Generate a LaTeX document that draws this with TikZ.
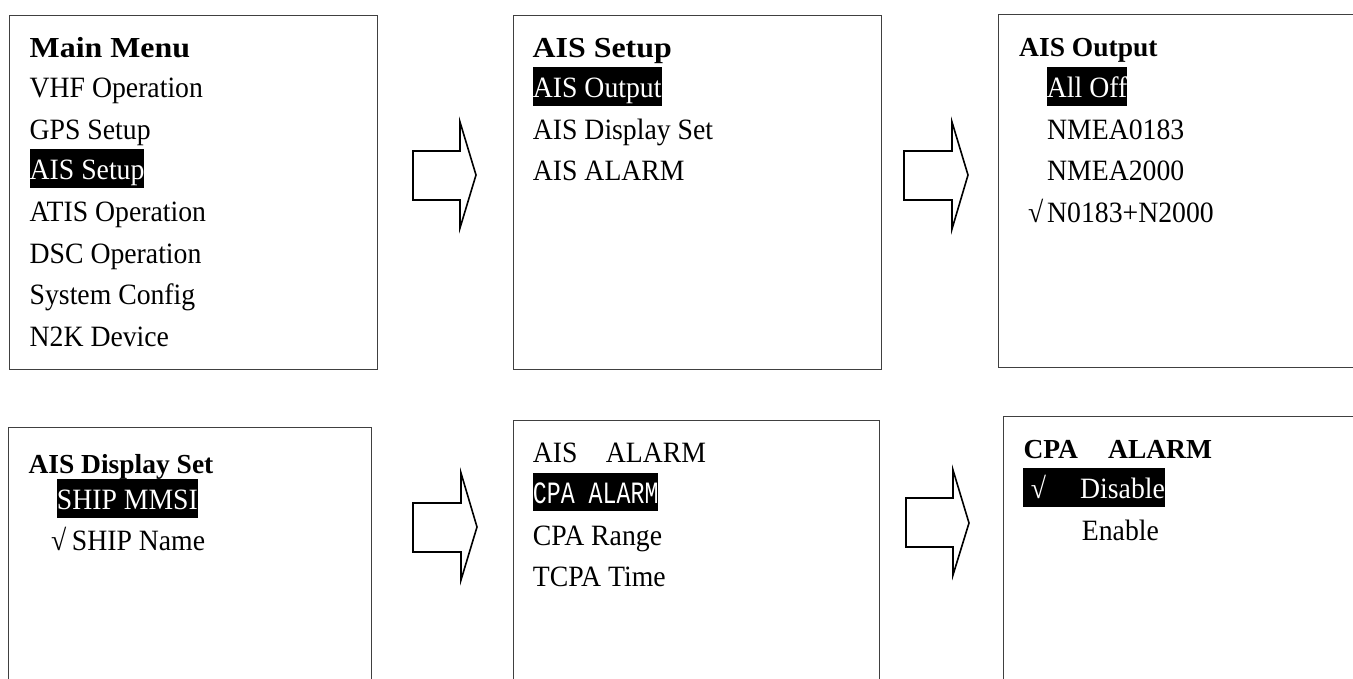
\documentclass[tikz,border=0pt]{standalone}
\usepackage{fontspec}
\setmainfont{Liberation Serif}
\newfontfamily\bodyfont{Liberation Serif}[FakeStretch=0.94]
\newfontfamily\bigfont{Liberation Serif}[FakeStretch=1.1]
\newfontfamily\lcdmono{Liberation Mono}[FakeStretch=0.75]
\begin{document}
\begin{tikzpicture}[x=1pt,y=-1pt,
  screen/.style={draw=black!75, line width=1.2pt, inner sep=0pt, anchor=north west},
  item/.style={inner sep=0pt, anchor=base west, font=\bodyfont\fontsize{29.5}{30}\selectfont},
  bighead/.style={inner sep=0pt, anchor=base west, font=\bigfont\bfseries\fontsize{29}{30}\selectfont},
  head/.style={inner sep=0pt, anchor=base west, font=\bfseries\fontsize{27.5}{28}\selectfont},
  hl/.style={item, fill=black, text=white, text height=30.5pt, text depth=8.3pt},
  hlmono/.style={hl, font=\lcdmono\fontsize{31}{31}\selectfont},
  blockarrow/.style={draw=black, line width=1.6pt, line join=miter}
]
\useasboundingbox (0,0) rectangle (1353,679);
\clip (0,0) rectangle (1353,679);

% screens
\node[screen, minimum width=368pt, minimum height=354pt] (scrMain) at (9,15) {};
\node[screen, minimum width=368pt, minimum height=354pt] (scrSetup) at (513,15) {};
\node[screen, minimum width=370pt, minimum height=353pt] (scrOutput) at (998,14) {};
\node[screen, minimum width=363pt, minimum height=290pt] (scrDisplay) at (8,427) {};
\node[screen, minimum width=366pt, minimum height=290pt] (scrAlarm) at (513,420) {};
\node[screen, minimum width=370pt, minimum height=290pt] (scrCpa) at (1003,416) {};

% Main Menu
\node[bighead] (mmT) at (29.5,57.3) {Main Menu};
\node[item] (mm1) at (29.5,98) {VHF Operation};
\node[item] (mm2) at (29.5,139.3) {GPS Setup};
\node[hl] (mm3) at (29.5,180) {AIS Setup};
\node[item] (mm4) at (29.5,222) {ATIS Operation};
\node[item] (mm5) at (29.5,263.5) {DSC Operation};
\node[item] (mm6) at (29.5,305) {System Config};
\node[item] (mm7) at (29.5,346.5) {N2K Device};

% AIS Setup
\node[bighead] (asT) at (532.5,57.3) {AIS Setup};
\node[hl] (as1) at (532.7,97.7) {AIS Output};
\node[item] (as2) at (532.7,139.5) {AIS Display Set};
\node[item] (as3) at (532.7,180.5) {AIS ALARM};

% AIS Output
\node[head] (aoT) at (1019,56.7) {AIS Output};
\node[hl] (ao1) at (1046.7,97.7) {All Off};
\node[item] (ao2) at (1047,139.3) {NMEA0183};
\node[item] (ao3) at (1047,181) {NMEA2000};
\node[item] (ao4) at (1028,222.3) {\makebox[19pt][l]{√}N0183+N2000};

% AIS Display Set
\node[head] (adT) at (28.3,473.3) {AIS Display Set};
\node[hl] (ad1) at (56.7,509.8) {SHIP MMSI};
\node[item] (ad2) at (51,550) {\makebox[20.7pt][l]{√}SHIP Name};

% AIS ALARM
\node[item] (alT) at (532.7,462.3) {AIS\hspace{28.4pt}ALARM};
\node[hlmono] (al1) at (532.7,503) {CPA ALARM};
\node[item] (al2) at (532.7,545) {CPA Range};
\node[item] (al3) at (532.7,586.7) {TCPA Time};

% CPA ALARM
\node[head] (caT) at (1023.3,458.3) {CPA\hspace{30.2pt}ALARM};
\node[hl] (ca1) at (1022.7,498.8) {\hspace{8pt}\makebox[49.3pt][l]{√}Disable};
\node[item] (ca2) at (1081.7,540.7) {Enable};

% block arrows
\draw[blockarrow] (413,151) -- (460,151) -- (460,122) -- (476,175) -- (460,228) -- (460,200) -- (413,200) -- cycle;
\draw[blockarrow] (904,151) -- (952,151) -- (952,122) -- (968,175) -- (952,229) -- (952,200) -- (904,200) -- cycle;
\draw[blockarrow] (413,503) -- (461,503) -- (461,473) -- (477,527) -- (461,580) -- (461,552) -- (413,552) -- cycle;
\draw[blockarrow] (906,498) -- (953,498) -- (953,470) -- (969,523) -- (953,575) -- (953,547) -- (906,547) -- cycle;
\end{tikzpicture}
\end{document}
